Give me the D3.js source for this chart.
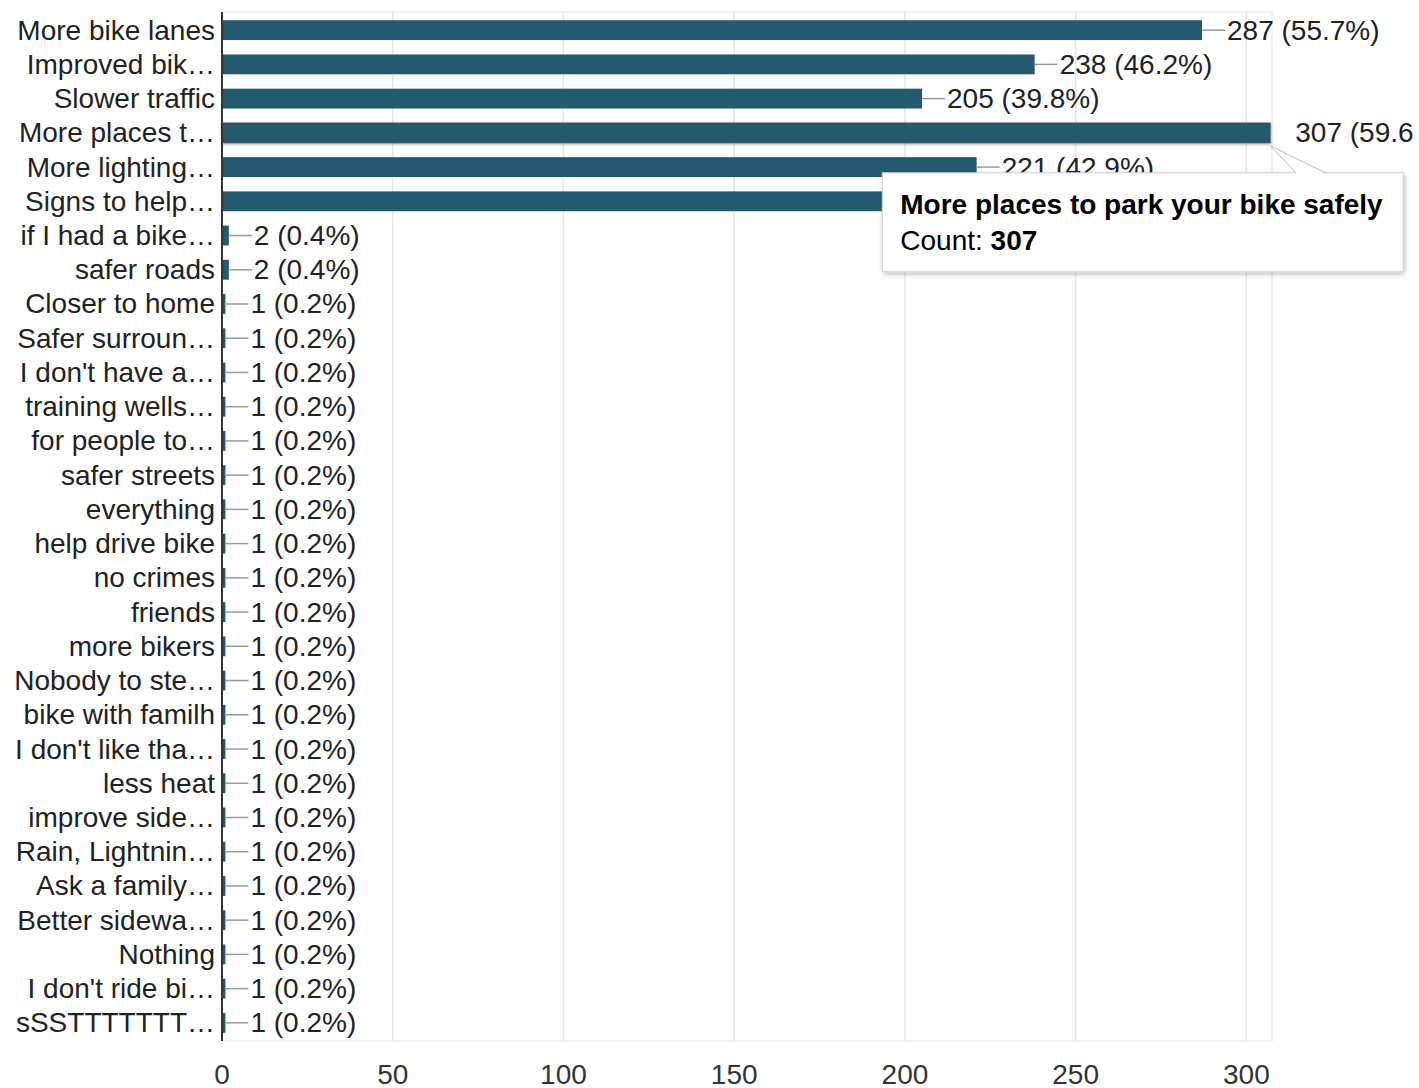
<!DOCTYPE html>
<html>
<head>
<meta charset="utf-8">
<script src="https://cdn.jsdelivr.net/npm/d3@7/dist/d3.min.js"></script>
<style>
  html, body { margin: 0; padding: 0; background: #fff; }
  svg { display: block; font-family: "Liberation Sans", Arial, sans-serif; }
</style>
</head>
<body>
<svg id="chart" width="1419" height="1088"></svg>
<script>
// Survey answers (shortened as shown in the axis) and their response counts
const categories = [
  "More bike lanes", "Improved bik…", "Slower traffic", "More places t…",
  "More lighting…", "Signs to help…", "if I had a bike…", "safer roads",
  "Closer to home", "Safer surroun…", "I don't have a…", "training wells…",
  "for people to…", "safer streets", "everything", "help drive bike",
  "no crimes", "friends", "more bikers", "Nobody to ste…", "bike with familh",
  "I don't like tha…", "less heat", "improve side…", "Rain, Lightnin…",
  "Ask a family…", "Better sidewa…", "Nothing", "I don't ride bi…", "sSSTTTTTTT…"
];
const counts = [
  287, 238, 205, 307, 221, 200, 2, 2, 1, 1, 1, 1, 1, 1, 1,
  1, 1, 1, 1, 1, 1, 1, 1, 1, 1, 1, 1, 1, 1, 1
];
const respondents = 515;
const xTicks = [0, 50, 100, 150, 200, 250, 300];

// Highlighted answer with its full text
const hoverIndex = 3;
const hoverTitle = "More places to park your bike safely";

const svg = d3.select("#chart");
const plot = { left: 222, right: 1272, top: 12, bottom: 1041 };
const barColor = "#245a70";
const textColor = "#222";

const x = d3.scaleLinear().domain([0, 307.5]).range([plot.left, plot.right]);
const y = d3.scaleBand().domain(categories).range([plot.top, plot.bottom]).paddingInner(0.42).paddingOuter(0.24);

const defs = svg.append("defs");
const shadow = defs.append("filter").attr("id", "shadow")
  .attr("x", "-10%").attr("y", "-20%").attr("width", "120%").attr("height", "150%");
shadow.append("feDropShadow").attr("dx", 1).attr("dy", 2).attr("stdDeviation", 2.5)
  .attr("flood-color", "#000").attr("flood-opacity", 0.25);
const barShadow = defs.append("filter").attr("id", "barShadow")
  .attr("x", "-5%").attr("y", "-50%").attr("width", "110%").attr("height", "200%");
barShadow.append("feDropShadow").attr("dx", 0).attr("dy", 1).attr("stdDeviation", 1.5)
  .attr("flood-color", "#000").attr("flood-opacity", 0.45);
// The chart container clips anything past its right edge
defs.append("clipPath").attr("id", "container")
  .append("rect").attr("x", 0).attr("y", 0).attr("width", 1414).attr("height", 1088);

// Plot frame and vertical gridlines
svg.append("rect")
  .attr("x", plot.left).attr("y", plot.top)
  .attr("width", plot.right - plot.left).attr("height", plot.bottom - plot.top)
  .attr("fill", "none").attr("stroke", "#ececec").attr("stroke-width", 1.5);

svg.append("g").selectAll("line").data(xTicks.slice(1)).join("line")
  .attr("x1", d => x(d)).attr("x2", d => x(d))
  .attr("y1", plot.top).attr("y2", plot.bottom)
  .attr("stroke", "#e6e6e6").attr("stroke-width", 1.5);

// Bars
const rows = categories.map((c, i) => ({ c, v: counts[i], i }));
svg.append("g").selectAll("rect").data(rows).join("rect")
  .attr("x", x(0))
  .attr("y", d => y(d.c))
  .attr("width", d => x(d.v) - x(0))
  .attr("height", y.bandwidth())
  .attr("fill", barColor)
  .attr("stroke", d => d.i === hoverIndex ? "#3a3a3a" : "none")
  .attr("stroke-opacity", 0.5)
  .attr("filter", d => d.i === hoverIndex ? "url(#barShadow)" : null);

// Value annotations with stems
const stemLen = 23;
const ann = svg.append("g").attr("clip-path", "url(#container)");
ann.selectAll("line").data(rows.filter(d => d.i !== hoverIndex)).join("line")
  .attr("x1", d => x(d.v)).attr("x2", d => x(d.v) + stemLen)
  .attr("y1", d => y(d.c) + y.bandwidth() / 2).attr("y2", d => y(d.c) + y.bandwidth() / 2)
  .attr("stroke", "#999").attr("stroke-width", 1.5);
ann.selectAll("text").data(rows).join("text")
  .attr("x", d => x(d.v) + stemLen + 2)
  .attr("y", d => y(d.c) + y.bandwidth() / 2)
  .attr("dominant-baseline", "central")
  .attr("font-size", 28).attr("fill", textColor)
  .text(d => `${d.v} (${(d.v / respondents * 100).toFixed(1)}%)`);

// Axis line at zero
svg.append("line")
  .attr("x1", x(0)).attr("x2", x(0)).attr("y1", plot.top).attr("y2", plot.bottom)
  .attr("stroke", "#333").attr("stroke-width", 2);

// Category labels
svg.append("g").selectAll("text").data(rows).join("text")
  .attr("x", plot.left - 7)
  .attr("y", d => y(d.c) + y.bandwidth() / 2)
  .attr("dominant-baseline", "central")
  .attr("text-anchor", "end")
  .attr("font-size", 28).attr("fill", textColor)
  .text(d => d.c);

// X tick labels
svg.append("g").selectAll("text").data(xTicks).join("text")
  .attr("x", d => x(d)).attr("y", plot.bottom + 33)
  .attr("dominant-baseline", "central")
  .attr("text-anchor", "middle")
  .attr("font-size", 28).attr("fill", "#333")
  .text(d => d);

// Tooltip for the highlighted bar
const tipX = x(counts[hoverIndex]);
const tipY = y(categories[hoverIndex]) + y.bandwidth() + 3;
const box = { x: tipX - 388, y: tipY + 27, w: 521, h: 99 };
const tip = svg.append("g");
tip.append("rect")
  .attr("x", box.x).attr("y", box.y).attr("width", box.w).attr("height", box.h)
  .attr("fill", "#fff").attr("stroke", "#cfcfcf").attr("stroke-width", 1)
  .attr("filter", "url(#shadow)");
const pL = [tipX + 26, box.y + 0.5], pR = [tipX + 56, box.y + 0.5];
tip.append("path")
  .attr("d", `M${pL[0]},${pL[1] + 1}L${tipX},${tipY}L${pR[0]},${pR[1] + 1}Z`)
  .attr("fill", "#fff").attr("stroke", "none");
tip.append("path")
  .attr("d", `M${pL[0]},${pL[1]}L${tipX},${tipY}L${pR[0]},${pR[1]}`)
  .attr("fill", "none").attr("stroke", "#bdbdbd").attr("stroke-width", 1);
tip.append("text")
  .attr("x", box.x + 18).attr("y", box.y + 41)
  .attr("font-size", 28).attr("font-weight", "bold").attr("fill", "#000")
  .text(hoverTitle);
const countLine = tip.append("text")
  .attr("x", box.x + 18).attr("y", box.y + 77)
  .attr("font-size", 28).attr("fill", "#000");
countLine.append("tspan").text("Count: ");
countLine.append("tspan").attr("font-weight", "bold").text(counts[hoverIndex]);
</script>
</body>
</html>
